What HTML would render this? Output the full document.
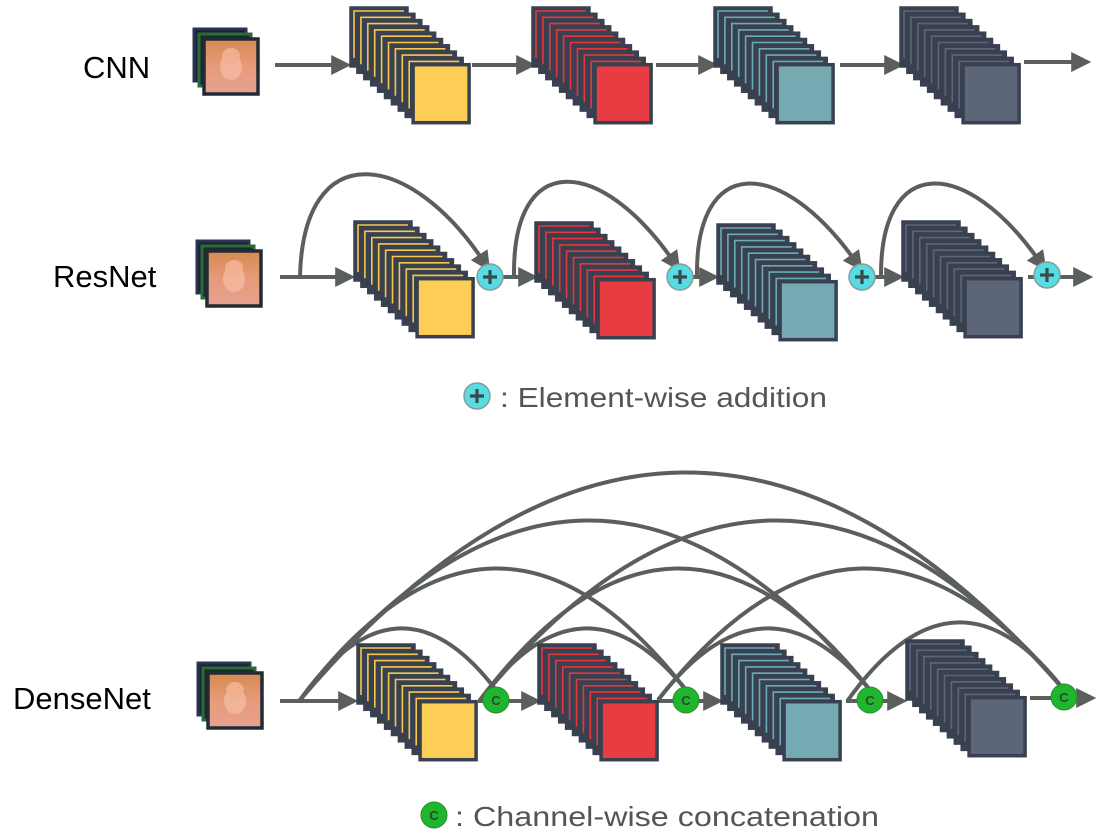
<!DOCTYPE html>
<html><head><meta charset="utf-8"><style>
html,body{margin:0;padding:0;background:#fff;}
svg{display:block;}
.lbl{font-family:"Liberation Sans",sans-serif;font-size:31px;fill:#000;}
.cap{font-family:"Liberation Sans",sans-serif;font-size:28px;fill:#555;}
.ln{stroke:#5b5f5c;stroke-width:4;fill:none;}
</style></head><body>
<svg width="1111" height="836" viewBox="0 0 1111 836" xmlns="http://www.w3.org/2000/svg">
<defs>
<marker id="ah" markerWidth="5" markerHeight="5" refX="2.2" refY="2.5" orient="auto" markerUnits="strokeWidth">
<path d="M0,0 L5,2.5 L0,5 z" fill="#5b5f5c"/></marker>
<linearGradient id="cat" x1="0" y1="0" x2="0" y2="1"><stop offset="0" stop-color="#d58a4f"/><stop offset="0.5" stop-color="#e89a7a"/><stop offset="1" stop-color="#e5a390"/></linearGradient>
<g id="img">
<rect x="0" y="0" width="52" height="52" fill="#1c2335" stroke="#2a3350" stroke-width="3"/>
<rect x="5" y="5" width="52" height="52" fill="#1c2a25" stroke="#2b6a3a" stroke-width="3"/>
<rect x="10" y="10" width="54" height="55" fill="url(#cat)" stroke="#222a36" stroke-width="3.5"/>
<ellipse cx="37" cy="38" rx="11" ry="13" fill="#f1b49a"/>
<ellipse cx="37" cy="27" rx="9" ry="8" fill="#f0b090"/>
</g>
</defs>

<text class="lbl" x="83" y="78">CNN</text>
<text class="lbl" x="53" y="287">ResNet</text>
<text class="lbl" x="13" y="709">DenseNet</text>

<use href="#img" x="194" y="29"/>
<use href="#img" x="197" y="241"/>
<use href="#img" x="198" y="663"/>

<g class="ln" marker-end="url(#ah)">
<line x1="275" y1="65" x2="340" y2="65"/>
<line x1="472" y1="65" x2="525" y2="65"/>
<line x1="656" y1="65" x2="707" y2="65"/>
<line x1="840" y1="65" x2="893" y2="65"/>
<line x1="1024" y1="62" x2="1080" y2="62"/>
</g>

<g class="ln" marker-end="url(#ah)">
<line x1="280" y1="277" x2="344" y2="277"/>
<line x1="503" y1="277" x2="527" y2="277"/>
<line x1="693" y1="277" x2="708" y2="277"/>
<line x1="875" y1="277" x2="893" y2="277"/>
<line x1="1060" y1="277" x2="1082" y2="277"/>
<path d="M300,277 C303,135 410,150 484,262"/>
<path d="M514,277 C512,150 600,155 674,262"/>
<path d="M697,277 C695,155 780,155 856,262"/>
<path d="M881,277 C880,155 965,155 1040,262"/>
</g>
<line x1="1028" y1="277" x2="1036" y2="277" stroke="#5b5f5c" stroke-width="4"/>

<g class="ln" stroke-width="4.5">
<path d="M300,700 Q682,250 1064,690"/>
<path d="M300,700 Q585,346 870,690"/>
<path d="M480,700 Q772,346 1064,690"/>
<path d="M300,700 Q493,442 686,690"/>
<path d="M480,700 Q675,442 870,690"/>
<path d="M658,700 Q861,442 1064,690"/>
<path d="M300,700 Q398,562 496,690"/>
<path d="M480,700 Q583,562 686,690"/>
<path d="M658,700 Q764,562 870,690"/>
<path d="M848,700 Q956,550 1064,690"/>
</g>
<g class="ln" marker-end="url(#ah)">
<line x1="280" y1="701" x2="347" y2="701"/>
<line x1="506" y1="701" x2="530" y2="701"/>
<line x1="696" y1="701" x2="712" y2="701"/>
<line x1="880" y1="701" x2="896" y2="701"/>
<line x1="1074" y1="698" x2="1085" y2="698"/>
</g>
<g class="ln">
<line x1="478" y1="701" x2="484" y2="701"/>
<line x1="658" y1="701" x2="673" y2="701"/>
<line x1="846" y1="701" x2="857" y2="701"/>
<line x1="1030" y1="698" x2="1051" y2="698"/>
</g>

<g stroke="#8a9a9a" stroke-width="1.5" fill="#55dde3">
<circle cx="490" cy="277" r="13"/><circle cx="680" cy="277" r="13"/>
<circle cx="862" cy="277" r="13"/><circle cx="1047" cy="275" r="13"/>
<circle cx="477" cy="396" r="13"/>
</g>
<g stroke="#3c4a4c" stroke-width="3.2">
<path d="M483,277 h14 M490,270 v14"/><path d="M673,277 h14 M680,270 v14"/>
<path d="M855,277 h14 M862,270 v14"/><path d="M1040,275 h14 M1047,268 v14"/>
<path d="M470,396 h14 M477,389 v14"/>
</g>
<g fill="#1fb52c" stroke="#2a8a30" stroke-width="1">
<circle cx="496" cy="700" r="13"/><circle cx="686" cy="700" r="13"/>
<circle cx="870" cy="700" r="13"/><circle cx="1064" cy="697" r="13"/>
<circle cx="434" cy="815" r="13"/>
</g>
<g font-family="Liberation Sans,sans-serif" font-size="13" font-weight="bold" fill="#2c4a2c" text-anchor="middle">
<text x="496" y="705">C</text><text x="686" y="705">C</text><text x="870" y="705">C</text><text x="1064" y="702">C</text><text x="434" y="820">C</text>
</g>

<text class="cap" x="500" y="407" textLength="327" lengthAdjust="spacingAndGlyphs">: Element-wise addition</text>
<text class="cap" x="455" y="826" textLength="424" lengthAdjust="spacingAndGlyphs">: Channel-wise concatenation</text>

<g id="st"></g>
</svg>
<script>
(function(){
var ns="http://www.w3.org/2000/svg";
var st=document.getElementById("st");
var cols=[["#f5c84c","#fcce55"],["#e8363f","#e83c43"],["#6aabb5","#75aab3"],["#5d6678","#5d6678"]];
var rows=[[[351,8],[533,8],[715,8],[901,8]],[[355,222],[536,223],[718,225],[903,222]],[[358,645],[539,645],[722,645],[907,641]]];
rows.forEach(function(r){r.forEach(function(p,k){
 var c=cols[k];
 for(var i=0;i<10;i++){
  var x=p[0]+6.9*i,y=p[1]+6.3*i;
  var rc=document.createElementNS(ns,"rect");
  rc.setAttribute("x",x);rc.setAttribute("y",y);rc.setAttribute("width",56);rc.setAttribute("height",58);
  rc.setAttribute("stroke","#394150");rc.setAttribute("stroke-width","3.5");
  rc.setAttribute("fill",i==9?c[1]:"#394150");
  st.appendChild(rc);
  if(i<9){var pa=document.createElementNS(ns,"path");
   pa.setAttribute("d","M"+(x+3)+","+(y+50)+" V"+(y+3)+" H"+(x+53));
   pa.setAttribute("stroke",c[0]);pa.setAttribute("stroke-width","1.6");pa.setAttribute("fill","none");
   st.appendChild(pa);}
 }
});});
})();
</script>
</body></html>
